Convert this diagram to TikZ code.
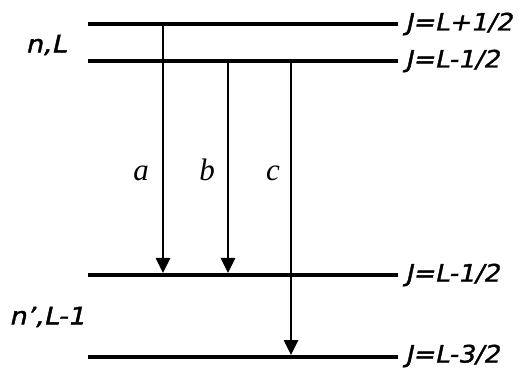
\documentclass[tikz,border=0pt]{standalone}
\usepackage{fontspec}
\setmainfont{DejaVu Sans}
\newfontfamily\labfont[FakeSlant=0.2,FakeBold=1.5]{DejaVu Sans}
\newfontfamily\serifit{Liberation Serif}
\usetikzlibrary{arrows.meta}
\begin{document}
\begin{tikzpicture}[x=1pt,y=1pt,
  level/.style={line width=4.2pt},
  trans/.style={line width=2.6pt,-{Triangle[length=15pt,width=14pt]}},
  jlab/.style={anchor=west,inner sep=0pt,xscale=1.08,font=\fontsize{24}{28}\selectfont\labfont},
  slab/.style={inner sep=0pt,xscale=1.12,font=\fontsize{24}{28}\selectfont\labfont},
  tlab/.style={inner sep=0pt,font=\fontsize{31}{34}\selectfont\serifit\itshape}]
\useasboundingbox (0,0) rectangle (521,369);
% level end points (y flipped: tikz y = 369 - image y)
\coordinate (l1a) at (88,345);  \coordinate (l1b) at (398,345);
\coordinate (l2a) at (88,308);  \coordinate (l2b) at (398,308);
\coordinate (l3a) at (88,94);   \coordinate (l3b) at (398,94);
\coordinate (l4a) at (88,12);   \coordinate (l4b) at (398,12);
\draw[level] (l1a) -- (l1b);
\draw[level] (l2a) -- (l2b);
\draw[level] (l3a) -- (l3b);
\draw[level] (l4a) -- (l4b);
% transitions
\coordinate (as) at (163,345); \coordinate (ae) at (163,96);
\coordinate (bs) at (228,308); \coordinate (be) at (228,96);
\coordinate (cs) at (291,308); \coordinate (ce) at (291,14);
\draw[trans] (as) -- (ae);
\draw[trans] (bs) -- (be);
\draw[trans] (cs) -- (ce);
% labels
\node[jlab] (j1) at (405,345) {J=L+1/2};
\node[jlab] (j2) at (405,308) {J=L-1/2};
\node[jlab] (j3) at (405,94) {J=L-1/2};
\node[jlab] (j4) at (405,13) {J=L-3/2};
\node[slab] (nl) at (46,324) {n,L};
\node[slab] (nl2) at (47,52) {n’,L-1};
\node[tlab] (ta) at (141,196) {a};
\node[tlab] (tb) at (207,199) {b};
\node[tlab] (tc) at (273,196) {c};
\end{tikzpicture}
\end{document}
